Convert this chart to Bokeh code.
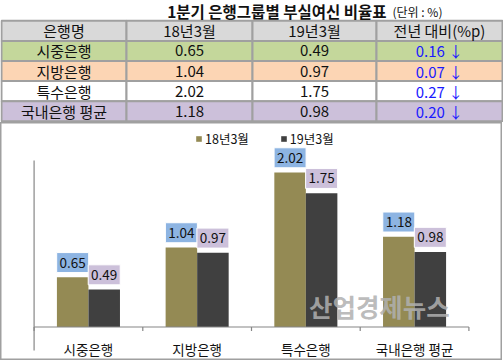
from bokeh.plotting import figure
from bokeh.models import Range1d, FactorRange, ColumnDataSource, Legend, LegendItem
from bokeh.transform import dodge
from bokeh.layouts import column
from bokeh.core.properties import value
from bokeh.embed import file_html
from bokeh.resources import INLINE

# ---------------- data ----------------
title = "1분기 은행그룹별 부실여신 비율표"
unit = "(단위 : %)"
headers = ["은행명", "18년3월", "19년3월", "전년 대비(%p)"]
banks = ["시중은행", "지방은행", "특수은행", "국내은행 평균"]
v18 = [0.65, 1.04, 2.02, 1.18]
v19 = [0.49, 0.97, 1.75, 0.98]
diff = [0.16, 0.07, 0.27, 0.20]
series = ["18년3월", "19년3월"]
watermark = "산업경제뉴스"

FONT = "Noto Sans CJK KR"
W = 503

# ---------------- table figure ----------------
TH = 122
top = figure(width=W, height=TH, output_backend="svg", toolbar_location=None,
             x_range=Range1d(0, W), y_range=Range1d(TH, 0), min_border=0)
top.axis.visible = False
top.grid.visible = False
top.outline_line_color = None
top.background_fill_color = "white"

col_edges = [1, 126, 252, 376, 502]
row_top = 20.3
row_h = 20.1
row_fills = ["#d9d9d9", "#c4d79b", "#fcd5b4", "#ffffff", "#ccc0da"]

rows = [headers] + [[b, f"{a:.2f}", f"{c:.2f}", f"{d:.2f} ↓"] for b, a, c, d in zip(banks, v18, v19, diff)]
L, R, T, B, fill = [], [], [], [], []
tx, ty, tt, tc = [], [], [], []
for i, row in enumerate(rows):
    t = row_top + i * row_h
    for j, txt in enumerate(row):
        L.append(col_edges[j]); R.append(col_edges[j + 1])
        T.append(t); B.append(t + row_h)
        fill.append(row_fills[i])
        tx.append((col_edges[j] + col_edges[j + 1]) / 2)
        ty.append(t + row_h / 2)
        tt.append(txt)
        tc.append("#1a1aff" if (j == 3 and i > 0) else "#111111")
top.quad(left=L, right=R, top=T, bottom=B, fill_color=fill,
         line_color="#a0a0a0", line_width=2)
top.text(x=tx, y=ty, text=tt, text_color=tc, text_align="center",
         text_baseline="middle", text_font=value(FONT), text_font_size="15px")
top.text(x=[386], y=[10.5], text=[title], text_align="right", text_font=value(FONT),
         text_font_style="bold", text_font_size="15.5px", text_baseline="middle",
         text_color="#111111")
top.text(x=[392], y=[11], text=[unit], text_font=value(FONT),
         text_font_size="12px", text_baseline="middle", text_color="#111111")

# ---------------- chart figure ----------------
CH = 238
CW = 502
PXU = 76.5              # px per unit value
base = 204.5            # baseline y (px from top of chart)
ymax = base / PXU
ymin = -(CH - base) / PXU

p = figure(width=CW, height=CH, output_backend="svg", toolbar_location=None,
           x_range=FactorRange(factors=banks, range_padding=0.309, range_padding_units="absolute"),
           y_range=Range1d(ymin, ymax), min_border=0)
p.axis.visible = False
p.grid.visible = False
p.outline_line_color = "#a0a0a0"
p.outline_line_width = 2
p.background_fill_color = "white"

src = ColumnDataSource(dict(bank=banks, v18=v18, v19=v19,
                            l18=[f"{v:.2f}" for v in v18], l19=[f"{v:.2f}" for v in v19],
                            y18=[v + 14.7 / PXU for v in v18], y19=[v + 14.7 / PXU for v in v19]))

off = 0.145
bw = 0.29
r18 = p.vbar(x=dodge("bank", -off, range=p.x_range), top="v18", width=bw, source=src,
             fill_color="#948a54", line_color=None)
r19 = p.vbar(x=dodge("bank", off, range=p.x_range), top="v19", width=bw, source=src,
             fill_color="#404040", line_color=None)

# axis lines
n = len(banks)
p.segment(x0=[0], y0=[-23.5 / PXU], x1=[0], y1=[2.176], line_color="#868686", line_width=1.2)
p.segment(x0=[0], y0=[0], x1=[n], y1=[0], line_color="#868686", line_width=1.2)
p.segment(x0=list(range(n + 1)), y0=[0] * (n + 1), x1=list(range(n + 1)),
          y1=[-4 / PXU] * (n + 1), line_color="#868686", line_width=1.2)

# value label boxes
p.rect(x=dodge("bank", -off, range=p.x_range), y="y18", width=32, height=20,
       width_units="screen", height_units="screen", source=src,
       fill_color="#8db4e2", line_color="white", line_width=1)
p.rect(x=dodge("bank", off, range=p.x_range), y="y19", width=32, height=20,
       width_units="screen", height_units="screen", source=src,
       fill_color="#ccc0da", line_color="white", line_width=1)
p.text(x=dodge("bank", -off, range=p.x_range), y="y18", text="l18", source=src,
       text_align="center", text_baseline="middle", text_font=value(FONT),
       text_font_size="13.5px", text_color="#111111")
p.text(x=dodge("bank", off, range=p.x_range), y="y19", text="l19", source=src,
       text_align="center", text_baseline="middle", text_font=value(FONT),
       text_font_size="13.5px", text_color="#111111")

# category labels
p.text(x=banks, y=[-21.5 / PXU] * n, text=banks, text_align="center",
       text_baseline="middle", text_font=value(FONT), text_font_size="13.5px",
       text_color="#111111")

# watermark
p.text(x=[3.176], y=[21.5 / PXU], text=[watermark], text_align="center",
       text_baseline="middle", text_font=value(FONT), text_font_style="bold",
       text_font_size="25.5px", text_color="#b0b0b0", text_alpha=0.85)

legend = Legend(items=[LegendItem(label=series[0], renderers=[r18]),
                       LegendItem(label=series[1], renderers=[r19])],
                orientation="horizontal", location=(195, 212),
                glyph_width=7, glyph_height=7, label_height=12, label_standoff=3,
                spacing=31, padding=0, margin=0, border_line_color=None,
                background_fill_alpha=0, label_text_font=FONT,
                label_text_font_size="12.5px", label_text_color="#111111")
p.add_layout(legend, "center")

layout = column(top, p, spacing=0)
open("out.html", "w").write(file_html(layout, INLINE))
